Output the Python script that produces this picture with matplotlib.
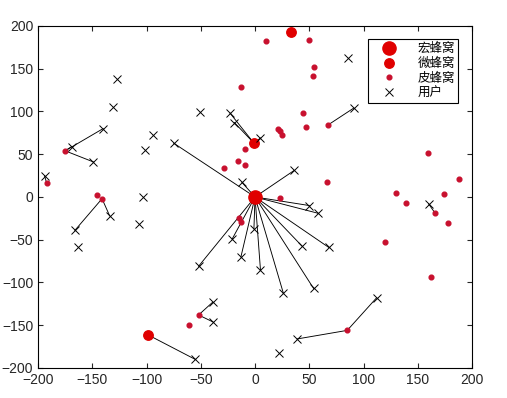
import matplotlib
matplotlib.use("Agg")
import matplotlib.pyplot as plt
from matplotlib.lines import Line2D

plt.rcParams['font.family'] = ['Liberation Sans', 'DejaVu Sans']

# base stations
macro_x = [0]
macro_y = [0]

micro_x = [-1, -99, 33]
micro_y = [63, -161, 193]

pico_x = [-175, -192, -146, -141, 10, 50, 54, 53, -13, 44, 47, 67, 21, 23, 25,
          -9, -16, -9, -29, 66, 23, -15, -13, -52, -61,
          159, 188, 130, 174, 139, 166, 178, 120, 162, 85]
pico_y = [54, 16, 2, -2, 183, 184, 152, 141, 129, 98, 82, 84, 80, 77, 72,
          56, 42, 37, 34, 17, -1, -25, -29, -138, -150,
          51, 21, 5, 3, -7, -19, -30, -53, -94, -156]

# users, with the station they connect to (None = none)
user_x = [-75, -12, 36, 50, 58, 68, 43, 54, 26, 5, -1, -13, -21, -52,
          -23, -19, 5,
          -55,
          -140, -169, -149, -194, -166, -134,
          91, -39, -39, 160, 112, 39,
          -127, -131, -101, -94, -103, -163, -107, -51, 86, 22]
user_y = [63, 17, 31, -10, -19, -59, -57, -107, -112, -85, -37, -70, -49, -81,
          98, 87, 69,
          -190,
          80, 59, 41, 25, -39, -22,
          104, -123, -146, -8, -118, -166,
          138, 105, 55, 72, 0, -58, -32, 99, 162, -182]
user_link = [('macro', 0)] * 14 + [('micro', 0)] * 3 + [('micro', 1)] + \
    [('pico', 0)] * 3 + [('pico', 1)] + [('pico', 3)] * 2 + \
    [('pico', 11), ('pico', 23), ('pico', 23), ('pico', 30), ('pico', 34), ('pico', 34)] + \
    [None] * 10

stations = {'macro': (macro_x, macro_y), 'micro': (micro_x, micro_y),
            'pico': (pico_x, pico_y)}

fig = plt.figure(figsize=(5.07, 3.98), dpi=100)
ax = fig.add_axes([0.075, 0.0754, 0.856, 0.8593])

for ux, uy, link in zip(user_x, user_y, user_link):
    if link is None:
        continue
    sx, sy = stations[link[0]]
    ax.plot([ux, sx[link[1]]], [uy, sy[link[1]]], color='k', lw=0.65, zorder=1)

ax.plot(macro_x, macro_y, 'o', color='#e00000', ms=9.5, mec='#e00000', zorder=3)
ax.plot(micro_x, micro_y, 'o', color='#e00000', ms=6.8, mec='#e00000', zorder=3)
ax.plot(pico_x, pico_y, 'o', color='#c8102e', ms=3.4, mec='#c8102e', zorder=3)
ax.plot(user_x, user_y, 'x', color='k', ms=6, mew=0.7, zorder=4)

ax.set_xlim(-200, 200)
ax.set_ylim(-200, 200)
ax.set_xticks(range(-200, 201, 50))
ax.set_yticks(range(-200, 201, 50))
ax.tick_params(direction='in', top=True, right=True, length=3.5, width=0.8,
               labelsize=10, colors='#262626')
for s in ax.spines.values():
    s.set_linewidth(0.8)

handles = [
    Line2D([], [], ls='none', marker='o', color='#e00000', ms=9.5),
    Line2D([], [], ls='none', marker='o', color='#e00000', ms=6.8),
    Line2D([], [], ls='none', marker='o', color='#c8102e', ms=3.4),
    Line2D([], [], ls='none', marker='x', color='k', ms=6, mew=0.7),
]
labels = ['宏蜂窝', '微蜂窝', '皮蜂窝', '用户']
leg = ax.legend(handles, labels, loc='upper right', bbox_to_anchor=(0.968, 0.962),
                borderaxespad=0, fancybox=False, edgecolor='k', framealpha=1,
                prop={'family': ['Noto Sans CJK SC'], 'size': 9},
                handlelength=2.9, labelspacing=0.15, borderpad=0.25,
                handletextpad=0.8)
leg.get_frame().set_linewidth(0.8)

fig.savefig('out.png', dpi=100)
